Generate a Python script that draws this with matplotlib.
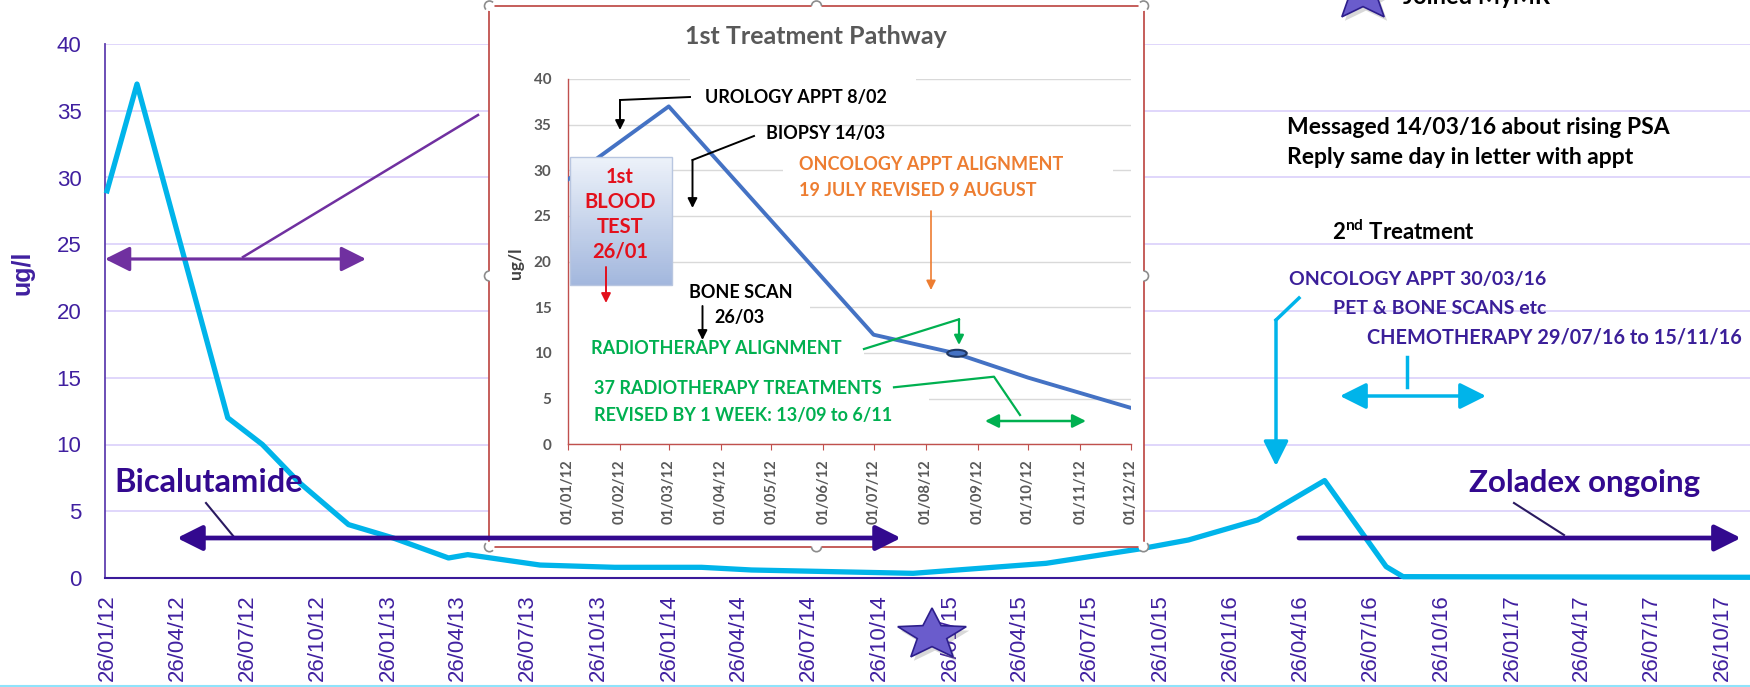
import numpy as np
import pandas as pd
import matplotlib
matplotlib.use('Agg')
import matplotlib.pyplot as plt
import matplotlib.dates as mdates
from matplotlib.patches import Polygon, Ellipse, Arc, Circle, Rectangle

W, H = 1750, 687

# main PSA history (ug/l)
main_ticks = ['26/01/12', '26/04/12', '26/07/12', '26/10/12',
              '26/01/13', '26/04/13', '26/07/13', '26/10/13',
              '26/01/14', '26/04/14', '26/07/14', '26/10/14',
              '26/01/15', '26/04/15', '26/07/15', '26/10/15',
              '26/01/16', '26/04/16', '26/07/16', '26/10/16',
              '26/01/17', '26/04/17', '26/07/17', '26/10/17']
psa_dates = ['2012-01-26', '2012-03-05', '2012-07-01', '2012-08-15', '2012-10-01',
             '2012-12-05', '2013-02-01', '2013-04-14', '2013-05-09', '2013-08-11',
             '2013-11-16', '2014-03-09', '2014-05-13', '2014-12-09', '2015-05-31',
             '2015-10-02', '2015-12-02', '2016-03-01', '2016-05-27', '2016-08-15',
             '2016-09-06', '2017-12-31']
psa_values = [29, 37, 12, 10, 7.2, 4.0, 3.0, 1.5, 1.75, 0.97, 0.8, 0.8, 0.6,
              0.35, 1.1, 2.2, 2.85, 4.35, 7.3, 0.85, 0.1, 0.05]

# inset: 1st treatment pathway
inset_ticks = ['01/01/12', '01/02/12', '01/03/12', '01/04/12', '01/05/12', '01/06/12',
               '01/07/12', '01/08/12', '01/09/12', '01/10/12', '01/11/12', '01/12/12']
inset_dates = ['2012-01-01', '2012-03-01', '2012-07-01', '2012-08-18', '2012-10-01', '2012-12-01']
inset_values = [29, 37, 12, 10, 7.3, 4]

plt.rcParams['font.family'] = ['Lato', 'DejaVu Sans']
plt.rcParams['mathtext.fontset'] = 'custom'
plt.rcParams['mathtext.bf'] = 'Lato:bold'
plt.rcParams['mathtext.rm'] = 'Lato:bold'

PURPLE_TXT = '#4020a0'
INDIGO = '#33098f'
CYAN = '#00b4ea'


def to_num(dates, fmt=None):
    return mdates.date2num(pd.to_datetime(dates, format=fmt).to_pydatetime())


def box(x0, y0, x1, y1):
    # pixel box (origin top-left) -> figure rect
    return [x0 / W, 1 - y1 / H, (x1 - x0) / W, (y1 - y0) / H]


fig = plt.figure(figsize=(W / 100, H / 100), dpi=100)

# ---------------- main chart
ax = fig.add_axes(box(105, 44, W, 578))
ax.plot(to_num(psa_dates), psa_values, color=CYAN, lw=3.8,
        solid_joinstyle='round', clip_on=False, zorder=3)
tpos = to_num(main_ticks, '%d/%m/%y')
ax.set_xlim(tpos[0] - 2.6, tpos[0] + 2136)
ax.set_ylim(0, 40)
ax.set_xticks(tpos)
ax.set_xticklabels(main_ticks, rotation=90, fontsize=16, color=PURPLE_TXT,
                   family='Liberation Sans')
ax.set_yticks(range(0, 41, 5))
ax.set_yticklabels([str(v) for v in range(0, 41, 5)], fontsize=16, color=PURPLE_TXT,
                   family='Liberation Sans')
ax.tick_params(axis='both', length=0)
ax.tick_params(axis='y', pad=17)
ax.tick_params(axis='x', pad=12)
ax.grid(axis='y', color='#ddd3fb', lw=1.3)
ax.set_axisbelow(True)
for s in ['top', 'right']:
    ax.spines[s].set_visible(False)
ax.spines['left'].set_color('#6040b0')
ax.spines['left'].set_linewidth(1.3)
ax.spines['bottom'].set_color('#3a1a9a')
ax.spines['bottom'].set_linewidth(1.5)
fig.text(22 / W, 1 - 273 / H, 'ug/l', rotation=90, ha='center', va='center',
         fontsize=18, color=PURPLE_TXT, family='Liberation Sans', fontweight='bold')

# ---------------- inset frame
fr = fig.add_axes(box(489.5, 6, 1143.5, 546.7))
fr.set_zorder(1)
fr.set_xticks([])
fr.set_yticks([])
fr.set_facecolor('white')
for s in fr.spines.values():
    s.set_color('#c0504d')
    s.set_linewidth(1.3)

# ---------------- inset chart
ins = fig.add_axes(box(568, 79, 1130.5, 444.3))
ins.set_zorder(2)
ins.patch.set_alpha(0)
ins.plot(to_num(inset_dates), inset_values, color='#4472c4', lw=2.8, zorder=3)
ipos = to_num(inset_ticks, '%d/%m/%y')
ins.set_xlim(ipos[0], ipos[-1])
ins.set_ylim(0, 40)
ins.set_xticks(ipos)
ins.set_xticklabels(inset_ticks, rotation=90, fontsize=10.5, color='#595959', fontweight='bold')
ins.set_yticks(range(0, 41, 5))
ins.set_yticklabels([str(v) for v in range(0, 41, 5)], fontsize=11, color='#595959',
                    fontweight='bold')
ins.tick_params(axis='x', length=4, color='#c0504d', pad=7)
ins.tick_params(axis='y', length=0, pad=12)
ins.grid(axis='y', color='#d9d9d9', lw=1.0)
ins.set_axisbelow(True)
for s in ['top', 'right']:
    ins.spines[s].set_visible(False)
for s in ['left', 'bottom']:
    ins.spines[s].set_color('#c0504d')
    ins.spines[s].set_linewidth(1.0)
# white text boxes that hide parts of the gridlines
for x0, y0, x1, y1 in [(690, 72, 916, 86), (783, 163, 1113, 177), (568, 300, 810, 314),
                       (568, 346, 864, 360), (568, 392, 929, 406)]:
    ins.add_patch(Rectangle((x0 / W, 1 - y1 / H), (x1 - x0) / W, (y1 - y0) / H,
                            transform=fig.transFigure, fc='white', ec='none', zorder=1))
fig.text(516 / W, 1 - 263 / H, 'ug/l', rotation=90, ha='center', va='center',
         fontsize=12.5, color='#404040', fontweight='bold')

# ---------------- overlay in pixel coordinates
ov = fig.add_axes([0, 0, 1, 1])
ov.set_zorder(10)
ov.patch.set_alpha(0)


def arrow(x0, y0, x1, y1, color, lw, style='-|>', ms=20):
    ov.annotate('', xy=(x1, y1), xytext=(x0, y0),
                arrowprops=dict(arrowstyle=style, color=color, lw=lw, mutation_scale=ms,
                                shrinkA=0, shrinkB=0))


def label(x, y, s, size, color, ha='left', va='center'):
    ov.text(x, y, s, fontsize=size, color=color, ha=ha, va=va, fontweight='bold')


def star(cx, cy, rx, ry, inner=0.43):
    pts = []
    for k in range(10):
        a = np.pi / 2 + k * np.pi / 5
        r = 1 if k % 2 == 0 else inner
        pts.append((cx + rx * r * np.cos(a), cy - ry * r * np.sin(a)))
    sh = [(px + 3, py + 4) for px, py in pts]
    ov.add_patch(Polygon(sh, closed=True, fc='#808080', ec='none', alpha=0.3, zorder=4))
    ov.add_patch(Polygon(pts, closed=True, fc='#6a5ccc', ec='#2d1e8c', lw=1.2, zorder=5))


# inset title
label(816, 37, '1st Treatment Pathway', 18, '#595959', ha='center')

# selection handles on the inset frame
for hx, hy, t1, t2 in [(816.5, 6, -180, 0), (816.5, 546.7, 0, 180), (489.5, 276, 90, 270),
                       (1143.5, 276, -90, 90), (489.5, 6, -225, -45), (1143.5, 6, -135, 45),
                       (489.5, 546.7, 45, 225), (1143.5, 546.7, -45, 135)]:
    ov.add_patch(Circle((hx, hy), 5, fc='white', ec='none', zorder=2))
    ov.add_patch(Arc((hx, hy), 10, 10, theta1=t1, theta2=t2, color='#8c8c8c', lw=1.2, zorder=3))

# 1st blood test box
grad = np.linspace(0, 1, 64)[:, None, None]
top = np.array([0.93, 0.95, 0.98])
bot = np.array([0.64, 0.72, 0.87])
ov.imshow(top + (bot - top) * grad, extent=(570, 671.7, 285, 157), aspect='auto', zorder=2)
ov.add_patch(Rectangle((570, 157), 101.7, 128, fc='none', ec='#b8c6e0', lw=1, zorder=3))
for yy, s in zip([177, 202, 227, 252], ['1st', 'BLOOD', 'TEST', '26/01']):
    label(620, yy, s, 14.5, '#e3101c', ha='center')
arrow(606, 267, 606, 303, '#e3101c', 1.4, ms=14)

# inset annotations
label(705, 98, 'UROLOGY APPT 8/02', 13, 'black')
ov.plot([690, 620], [97, 100], color='black', lw=1.4)
arrow(620, 100, 620, 130, 'black', 1.4, ms=14)
label(766, 133, 'BIOPSY 14/03', 13, 'black')
ov.plot([754, 692.5], [136, 160], color='black', lw=1.4)
arrow(692.5, 160, 692.5, 208, 'black', 1.4, ms=14)
label(799, 164, 'ONCOLOGY APPT ALIGNMENT', 13, '#ed7d31')
label(799, 190, '19 JULY REVISED 9 AUGUST', 13, '#ed7d31')
arrow(931, 211, 931, 290, '#ed7d31', 1.2, ms=14)
label(689, 293, 'BONE SCAN', 13, 'black')
label(714, 318, '26/03', 13, 'black')
arrow(702.5, 306, 702.5, 340, 'black', 1.4, ms=14)
label(591, 349, 'RADIOTHERAPY ALIGNMENT', 13, '#00b050')
ov.plot([864, 959], [349, 319.3], color='#00b050', lw=1.6)
arrow(959, 319.3, 959, 345, '#00b050', 1.6, ms=14)
ov.add_patch(Ellipse((957, 353.3), 19.5, 7, fc='#4472c4', ec='#1f3864', lw=1.5, zorder=4))
label(594, 388, '37 RADIOTHERAPY TREATMENTS', 13, '#00b050')
label(594, 415, 'REVISED BY 1 WEEK: 13/09 to 6/11', 13, '#00b050')
ov.plot([894, 994, 1020], [387.3, 376.7, 415], color='#00b050', lw=1.6)
arrow(985, 421, 1086, 421, '#00b050', 1.8, style='<|-|>', ms=20)

# main chart annotations
arrow(105, 259, 366, 259, '#7030a0', 2.3, style='<|-|>', ms=38)
ov.plot([243, 478], [257, 115], color='#7030a0', lw=1.8)

label(114, 482, 'Bicalutamide', 23.5, INDIGO)
ov.plot([206, 234], [503, 537], color='#2a1a60', lw=1.5)
arrow(177, 538, 901, 538, INDIGO, 3.4, style='<|-|>', ms=38)

label(1469, 483, 'Zoladex ongoing', 22.5, INDIGO)
ov.plot([1514, 1564], [503, 535], color='#2a1a60', lw=1.5)
arrow(1299, 538, 1741, 538, INDIGO, 3.4, ms=40)

ov.plot([1299, 1276], [298, 320], color=CYAN, lw=2.5)
arrow(1276, 320, 1276, 466, CYAN, 2.5, ms=38)
ov.plot([1407, 1407], [357, 387], color=CYAN, lw=2.5)
arrow(1340, 396, 1486, 396, CYAN, 2.5, style='<|-|>', ms=40)

label(1287, 127, 'Messaged 14/03/16 about rising PSA', 16.5, 'black')
label(1287, 158, 'Reply same day in letter with appt', 16.5, 'black')
label(1332, 240, r'2$^{\mathbf{nd}}$ Treatment', 16, 'black', va='baseline')
label(1289, 280, 'ONCOLOGY APPT 30/03/16', 14, '#3b1f99')
label(1333, 308, 'PET & BONE SCANS etc', 14, '#3b1f99')
label(1367, 337, 'CHEMOTHERAPY 29/07/16 to 15/11/16', 14.3, '#3b1f99')

# Joined MyMR (cut at the top edge, as in the source) and the star on the time axis
star(1363, -5, 36, 27)
label(1403, 4, 'Joined MyMR', 17, 'black', va='baseline')
star(932, 635, 36, 27)

ov.plot([0, W], [685.5, 685.5], color='#8fe3fb', lw=1.5)

ov.set_xlim(0, W)
ov.set_ylim(H, 0)
ov.axis('off')

fig.savefig('out.png', dpi=100)
